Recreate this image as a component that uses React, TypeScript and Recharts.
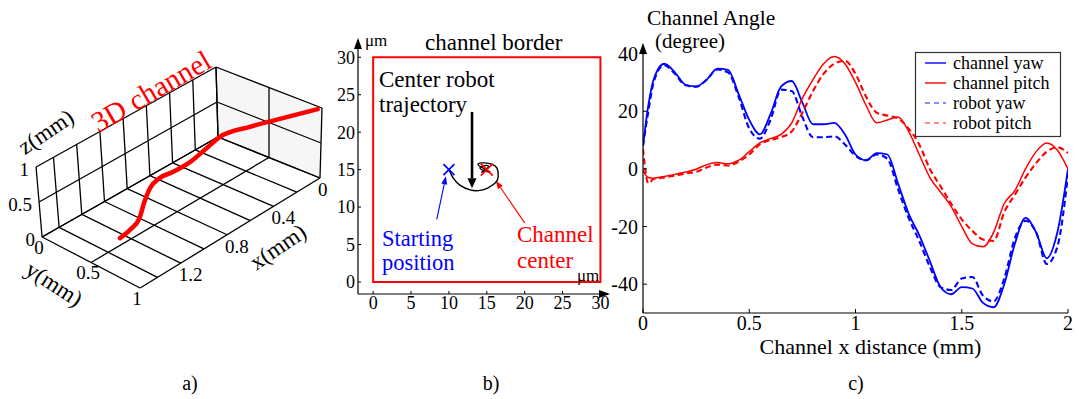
import React from 'react';
import {
  ScatterChart,
  Scatter,
  LineChart,
  Line,
  XAxis,
  YAxis,
  ReferenceArea,
  ReferenceLine,
  ReferenceDot,
} from 'recharts';

const FONT = '"Liberation Serif", "Times New Roman", serif';

/* ---------------- panel c: channel angles ---------------- */
const distance = [0, 0.025, 0.05, 0.1, 0.15, 0.2, 0.25, 0.3, 0.35, 0.4, 0.45, 0.5, 0.55, 0.6, 0.65, 0.7, 0.75, 0.8, 0.85, 0.9, 0.95, 1, 1.05, 1.1, 1.15, 1.2, 1.25, 1.3, 1.35, 1.4, 1.45, 1.5, 1.55, 1.6, 1.65, 1.7, 1.75, 1.8, 1.85, 1.9, 1.95, 2];
const channelYaw = [8, 22, 31, 36.5, 33.5, 29.2, 28.6, 31, 34.8, 34.4, 26, 17, 12, 19, 28.6, 30.5, 23, 15.5, 15.5, 16, 12, 5, 3, 5.5, 5, -5, -15.5, -23, -32, -41, -43.5, -41, -41.5, -46.5, -48, -40, -26, -17, -22, -31, -22, 0];
const channelPitch = [-0.5, -3, -3.2, -2.6, -1.9, -1.1, -0.1, 1.5, 2.2, 1.8, 3, 6, 9, 10.5, 12, 16, 24.5, 31, 36.5, 39, 36.5, 30, 22, 16, 17, 18, 13, 5, -3, -8, -13, -20, -26, -27, -22, -12, -7.5, 0, 6, 9, 6.5, 0];
const robotYaw = [8, 20, 30, 36, 33, 29, 28.5, 31, 34.5, 33.5, 25, 14, 10.5, 17, 27.5, 27, 18, 11, 11, 11.3, 8.5, 4.5, 3, 5, 3.5, -7, -17, -25, -34, -41, -42, -38, -37.5, -44, -46, -38, -24, -18, -22, -33, -27, -2];
const robotPitch = [7, -5, -3.5, -3, -2.3, -1.6, -1, 0.5, 1.5, 1.2, 2.5, 5, 8.5, 10, 11, 13, 19.5, 27, 33, 36.5, 37.5, 33, 25, 19.5, 18.5, 17.5, 14, 8.5, 0, -6, -12, -17.5, -21.5, -24.5, -25, -15, -9, -3, 2, 6, 7.5, 5.5];
const angleTicks = [-40, -20, 0, 20, 40];
const distanceTicks = [0, 0.5, 1, 1.5, 2];

const angleSeries = [
  { key: 'channelYaw', name: 'channel yaw', color: '#0000ff', dash: undefined as string | undefined, width: 1.8 },
  { key: 'channelPitch', name: 'channel pitch', color: '#ff0000', dash: undefined as string | undefined, width: 1.5 },
  { key: 'robotYaw', name: 'robot yaw', color: '#0000ff', dash: '6 3.5', width: 2.1 },
  { key: 'robotPitch', name: 'robot pitch', color: '#ff0000', dash: '6 3.5', width: 2.1 },
];

const angleData = distance.map((d, i) => ({
  d,
  channelYaw: channelYaw[i],
  channelPitch: channelPitch[i],
  robotYaw: robotYaw[i],
  robotPitch: robotPitch[i],
}));

/* ---------------- panel b: cross section ---------------- */
const borderTicks = [0, 5, 10, 15, 20, 25, 30];
const trajX = [10, 10.55, 11.5, 12.8, 13.9, 15.05, 16.1, 16.5, 16.35, 15.7, 14.75, 13.9, 15.4, 14.1, 15.2, 14.4, 14.9];
const trajY = [15, 13.9, 12.9, 12.3, 12.2, 12.5, 13.2, 14.0, 15.2, 15.7, 15.9, 15.6, 14.7, 15.2, 15.5, 14.7, 15];
const trajectory = trajX.map((x, i) => ({ x, y: trajY[i] }));
const startPos = [{ x: 10, y: 15 }];
const channelCenter = [{ x: 15, y: 15 }];
const arrowFromX = [13.05, 8.4, 20.0];
const arrowFromY = [22.7, 8.35, 7.9];
const arrowToX = [13.05, 9.6, 16.2];
const arrowToY = [12.5, 14.1, 13.5];
const arrowColors = ['#000000', '#0000ff', '#ff0000'];

/* ---------------- panel a: 3D channel ---------------- */
const BOX_X = 1.55;
const gridX = [0, 0.2, 0.4, 0.6, 0.8, 1.0, 1.2, 1.4];
const gridY = [0, 0.5, 1];
const gridZ = [0, 0.5, 1];
const xTicks3d = [0, 0.4, 0.8, 1.2];
const yTicks3d = [0, 0.5, 1];
const zTicks3d = [0, 0.5, 1];
const chanX = [1.25, 1.18, 1.1, 1.03, 0.97, 0.9, 0.82, 0.72, 0.62, 0.52, 0.37, 0.2, 0];
const chanY = [0.445, 0.464, 0.473, 0.442, 0.437, 0.456, 0.492, 0.547, 0.599, 0.613, 0.732, 0.854, 0.96];
const chanZ = [0.02, 0.08, 0.18, 0.31, 0.46, 0.55, 0.58, 0.66, 0.8, 0.87, 0.94, 0.97, 0.96];

// slightly perspective oblique projection (units of 100 px)
const project = (x: number, y: number, z: number) => ({
  u: (-113.5 * x + (102 - 2.6 * x) * y + (-2 - 2.6 * x + 4 * y) * z) / 100,
  v: (64.5 * x + (41 + 6.45 * x) * y - 70 * z) / 100,
});

function buildGrid() {
  const segs: number[][][] = [];
  const xs = [...gridX, BOX_X];
  xs.forEach((x) => segs.push([[x, 0, 0], [x, 0, 1]]));
  gridZ.forEach((z) => segs.push([[0, 0, z], [BOX_X, 0, z]]));
  gridY.forEach((y) => segs.push([[0, y, 0], [0, y, 1]]));
  gridZ.forEach((z) => segs.push([[0, 0, z], [0, 1, z]]));
  gridY.forEach((y) => segs.push([[0, y, 0], [BOX_X, y, 0]]));
  xs.forEach((x) => segs.push([[x, 0, 0], [x, 1, 0]]));
  return segs.map((s) => s.map(([x, y, z]) => project(x, y, z)));
}

const NoShape = () => null;

const labelShape = (anchor: 'start' | 'middle' | 'end', dx: number, dy: number, size: number) => (p: any) => (
  <text x={p.cx + dx} y={p.cy + dy} textAnchor={anchor} fontSize={size} fontFamily={FONT} fill="#000">
    {p.payload.label}
  </text>
);

function Panel3D() {
  const segs = buildGrid();
  const wall = [
    [0, 0, 0],
    [0, 1, 0],
    [0, 1, 1],
    [0, 0, 1],
  ].map(([x, y, z]) => project(x, y, z));
  const chan = chanX.map((x, i) => project(x, chanY[i], chanZ[i]));
  const xLab = xTicks3d.map((x) => ({ ...project(x, 1, 0), label: String(x) }));
  const yLab = yTicks3d.map((y) => ({ ...project(BOX_X, y, 0), label: String(y) }));
  const zLab = zTicks3d.map((z) => ({ ...project(BOX_X, 0, z), label: String(z) }));
  return (
    <ScatterChart width={340} height={399} margin={{ top: 0, right: 0, bottom: 0, left: 0 }}>
      <XAxis type="number" dataKey="u" domain={[-2.18, 1.22]} hide allowDataOverflow />
      <YAxis type="number" dataKey="v" domain={[-1.37, 2.62]} reversed hide allowDataOverflow />
      <Scatter
        data={wall}
        line={{ stroke: 'none', fill: '#f6f6f6' } as any}
        shape={NoShape}
        isAnimationActive={false}
      />
      {segs.map((s, i) => (
        <Scatter key={`g${i}`} data={s} line={{ stroke: '#000', strokeWidth: 1.3 }} shape={NoShape} isAnimationActive={false} />
      ))}
      <Scatter
        data={chan}
        line={{ stroke: '#ff0000', strokeWidth: 4.5, strokeLinecap: 'round' } as any}
        lineJointType="monotoneX"
        shape={NoShape}
        isAnimationActive={false}
      />
      <Scatter data={xLab} shape={labelShape('start', -2, 18, 19)} isAnimationActive={false} />
      <Scatter data={yLab} shape={labelShape('middle', -3, 17, 19)} isAnimationActive={false} />
      <Scatter data={zLab} shape={labelShape('end', -7, 9, 19)} isAnimationActive={false} />
    </ScatterChart>
  );
}

const crossShape = (color: string, half: number) => (p: any) => (
  <g>
    <line x1={p.cx - half} y1={p.cy - half} x2={p.cx + half} y2={p.cy + half} stroke={color} strokeWidth={1.6} />
    <line x1={p.cx - half} y1={p.cy + half} x2={p.cx + half} y2={p.cy - half} stroke={color} strokeWidth={1.6} />
  </g>
);

const arrowShape = (color: string, width: number, headLen: number, headHalf: number) => (p: any) => {
  const { x1, y1, x2, y2 } = p;
  const dx = x2 - x1;
  const dy = y2 - y1;
  const len = Math.hypot(dx, dy) || 1;
  const ux = dx / len;
  const uy = dy / len;
  const bx = x2 - ux * headLen;
  const by = y2 - uy * headLen;
  const px = -uy * headHalf;
  const py = ux * headHalf;
  return (
    <g>
      <line x1={x1} y1={y1} x2={bx} y2={by} stroke={color} strokeWidth={width} />
      <path d={`M${x2},${y2} L${bx + px},${by + py} L${bx - px},${by - py} Z`} fill={color} />
    </g>
  );
};

const upHead = (p: any) => (
  <path d={`M${p.cx},${p.cy - 2} L${p.cx - 4},${p.cy + 9} L${p.cx + 4},${p.cy + 9} Z`} fill="#000" />
);
const rightHead = (p: any) => (
  <path d={`M${p.cx + 2},${p.cy} L${p.cx - 9},${p.cy - 4} L${p.cx - 9},${p.cy + 4} Z`} fill="#000" />
);

function PanelSection() {
  const tickStyle = { fill: '#000', fontSize: 18, fontFamily: FONT };
  return (
    <ScatterChart width={320} height={330} margin={{ top: 40, right: 12, bottom: 6, left: 0 }}>
      <XAxis
        type="number"
        dataKey="x"
        domain={[-2, 31]}
        ticks={borderTicks}
        interval={0}
        height={30}
        tickSize={-3}
        tickMargin={5}
        allowDataOverflow
        axisLine={{ stroke: '#000', strokeWidth: 1.2 }}
        tickLine={{ stroke: '#000' }}
        tick={tickStyle}
      />
      <YAxis
        type="number"
        dataKey="y"
        domain={[-1.6, 32.3]}
        ticks={borderTicks}
        interval={0}
        width={58}
        tickSize={-3}
        tickMargin={6}
        allowDataOverflow
        axisLine={{ stroke: '#000', strokeWidth: 1.2 }}
        tickLine={{ stroke: '#000' }}
        tick={tickStyle}
      />
      <ReferenceArea x1={0} x2={30} y1={0} y2={30} fill="none" fillOpacity={0} stroke="#ff0000" strokeWidth={2} ifOverflow="visible" />
      <Scatter
        data={trajectory}
        line={{ stroke: '#000', strokeWidth: 1.4 }}
        lineJointType="natural"
        shape={NoShape}
        isAnimationActive={false}
      />
      <Scatter data={startPos} shape={crossShape('#0000ff', 5.5)} isAnimationActive={false} />
      <Scatter data={channelCenter} shape={crossShape('#ff0000', 6)} isAnimationActive={false} />
      {arrowFromX.map((fx, i) => (
        <ReferenceLine
          key={`a${i}`}
          segment={[
            { x: fx, y: arrowFromY[i] },
            { x: arrowToX[i], y: arrowToY[i] },
          ]}
          ifOverflow="visible"
          shape={i === 0 ? arrowShape(arrowColors[i], 2.6, 10, 4.5) : arrowShape(arrowColors[i], 1.1, 8, 3)}
        />
      ))}
      <ReferenceDot x={-2} y={32.3} r={0} shape={upHead} ifOverflow="visible" />
      <ReferenceDot x={31} y={-1.6} r={0} shape={rightHead} ifOverflow="visible" />
    </ScatterChart>
  );
}

function PanelAngles() {
  const tickStyle = { fill: '#000', fontSize: 20, fontFamily: FONT };
  return (
    <LineChart width={479} height={399} data={angleData} margin={{ top: 45, right: 11, bottom: 56, left: 0 }}>
      <XAxis
        type="number"
        dataKey="d"
        domain={[0, 2]}
        ticks={distanceTicks}
        interval={0}
        height={30}
        tickSize={-4}
        tickMargin={7}
        allowDataOverflow
        axisLine={{ stroke: '#000', strokeWidth: 1.2 }}
        tickLine={{ stroke: '#000' }}
        tick={tickStyle}
      />
      <YAxis
        type="number"
        domain={[-50, 43]}
        ticks={angleTicks}
        interval={0}
        width={43}
        tickSize={-4}
        tickMargin={9}
        allowDataOverflow
        axisLine={{ stroke: '#000', strokeWidth: 1.2 }}
        tickLine={{ stroke: '#000' }}
        tick={tickStyle}
      />
      {angleSeries.map((s) => (
        <Line
          key={s.key}
          dataKey={s.key}
          name={s.name}
          type="monotone"
          stroke={s.color}
          strokeWidth={s.width}
          strokeDasharray={s.dash}
          dot={false}
          activeDot={false}
          isAnimationActive={false}
        />
      ))}
      <ReferenceDot x={0} y={43} r={0} shape={upHead} ifOverflow="visible" />
    </LineChart>
  );
}

function Overlay() {
  const t = (x: number, y: number, s: string, size: number, opts: any = {}) => (
    <text
      x={x}
      y={y}
      fontSize={size}
      fontFamily={FONT}
      fill={opts.fill || '#000'}
      textAnchor={opts.anchor || 'start'}
      dominantBaseline={opts.central ? 'central' : undefined}
      transform={opts.rot !== undefined ? `rotate(${opts.rot} ${x} ${y})` : undefined}
    >
      {s}
    </text>
  );
  const rows = [63, 83, 103, 123];
  return (
    <svg width={1079} height={399} style={{ position: 'absolute', left: 0, top: 0, pointerEvents: 'none' }}>
      {/* panel a */}
      {t(151, 91, '3D channel', 29, { fill: '#ff0000', anchor: 'middle', central: true, rot: -30 })}
      {t(46, 132, 'z(mm)', 23, { anchor: 'middle', central: true, rot: -34 })}
      {t(278, 247, 'x(mm)', 23, { anchor: 'middle', central: true, rot: -34 })}
      {t(54, 284, 'y(mm)', 23, { anchor: 'middle', central: true, rot: 33 })}
      {/* panel b */}
      {t(365, 46, 'μm', 17)}
      {t(425, 50, 'channel border', 23)}
      {t(379, 86.5, 'Center robot', 23)}
      {t(379, 112, 'trajectory', 23)}
      {t(382, 246, 'Starting', 22.5, { fill: '#0000ff' })}
      {t(382, 270, 'position', 22.5, { fill: '#0000ff' })}
      {t(517, 241.5, 'Channel', 23, { fill: '#ff0000' })}
      {t(517, 268, 'center', 23, { fill: '#ff0000' })}
      {t(577, 281, 'μm', 17)}
      {/* panel c */}
      {t(647, 25, 'Channel Angle', 21.5)}
      {t(655, 48, '(degree)', 21)}
      {t(870.5, 354, 'Channel x distance (mm)', 22, { anchor: 'middle' })}
      {/* legend */}
      <rect x={915.5} y={52.5} width={145} height={84} fill="#fff" stroke="#333" strokeWidth={1.2} />
      {angleSeries.map((s, i) => (
        <g key={s.key}>
          <line x1={925} y1={rows[i]} x2={946} y2={rows[i]} stroke={s.color} strokeWidth={1.4} strokeDasharray={s.dash ? '5 4' : undefined} opacity={s.dash ? 0.6 : 1} />
          {t(953, rows[i] + 6, s.name, 18)}
        </g>
      ))}
      {/* captions */}
      {t(190, 390, 'a)', 20, { anchor: 'middle' })}
      {t(491, 390, 'b)', 20, { anchor: 'middle' })}
      {t(856, 390, 'c)', 20, { anchor: 'middle' })}
    </svg>
  );
}

export default function App() {
  return (
    <div
      style={{
        position: 'fixed',
        left: 0,
        top: 0,
        width: 1079,
        height: 399,
        background: '#fff',
        overflow: 'hidden',
        fontFamily: FONT,
      }}
    >
      <div style={{ position: 'absolute', left: 0, top: 0 }}>
        <Panel3D />
      </div>
      <div style={{ position: 'absolute', left: 300, top: 0 }}>
        <PanelSection />
      </div>
      <div style={{ position: 'absolute', left: 600, top: 0 }}>
        <PanelAngles />
      </div>
      <Overlay />
    </div>
  );
}
